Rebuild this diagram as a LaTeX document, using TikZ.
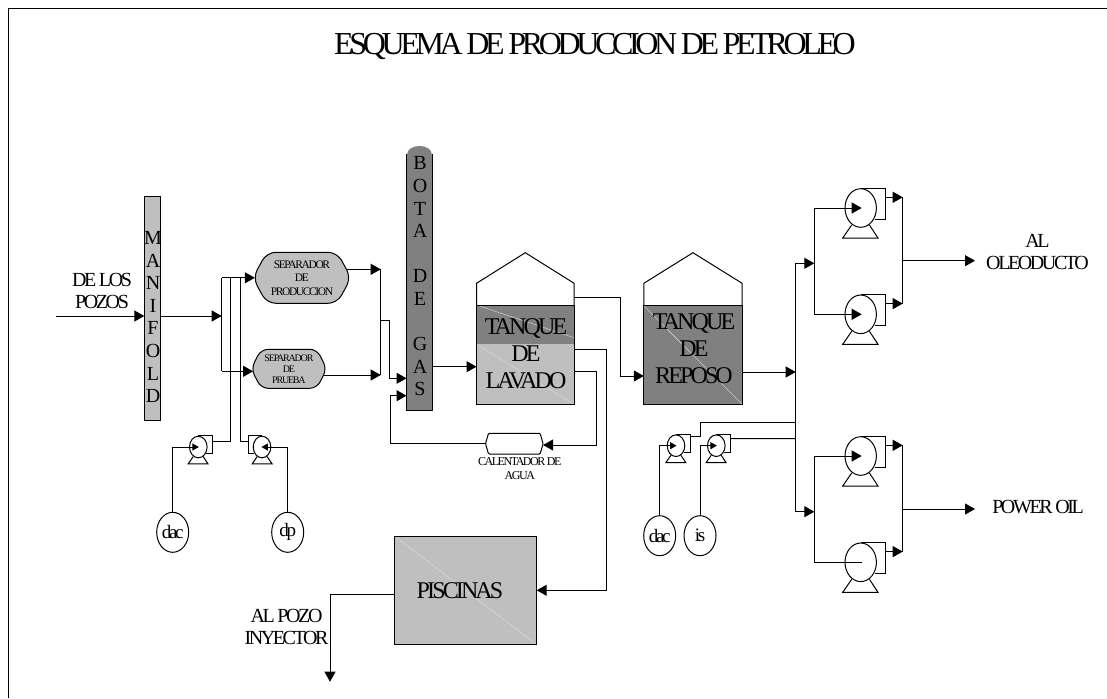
\documentclass[tikz,border=0pt]{standalone}
\usepackage{fontspec}
\setmainfont{Liberation Serif}[LetterSpace=-12]
\newfontfamily\titlefont{Liberation Serif}[LetterSpace=-13.6]
\usepackage{tikz}
\usetikzlibrary{arrows.meta, positioning, shapes.geometric}
\definecolor{graylight}{HTML}{BFBFBF}
\definecolor{graydark}{HTML}{808080}
\newcommand{\chamferdraw}[4]{%
  \draw[fill=#4, rounded corners=#3] (#1.north) -- ([xshift=-#2]#1.north east) -- (#1.east)
    -- ([xshift=-#2]#1.south east) -- ([xshift=#2]#1.south west) -- (#1.west)
    -- ([xshift=#2]#1.north west) -- cycle;
}

\begin{document}
\begin{tikzpicture}[
  x=1pt, y=-1pt,
  line width=1pt,
  box/.style={
    draw,
    rectangle,
    inner sep=0pt,
    outer sep=0pt,
    align=center
  },
  slot/.style={
    rectangle,
    inner sep=0pt,
    outer sep=0pt
  },
  diag/.style={
    path picture={
      \draw[white!75!gray, line width=0.4pt] (path picture bounding box.north west) -- (path picture bounding box.south east);
    }
  },
  source/.style={
    draw,
    ellipse,
    minimum width=32pt,
    minimum height=40pt,
    inner sep=0pt,
    font=\fontsize{19}{21}\selectfont
  },
  txt/.style={inner sep=0pt, align=center, font=\fontsize{20}{22}\selectfont},
  tanktxt/.style={inner sep=0pt, align=center, font=\fontsize{24}{27}\selectfont},
  stack/.style={inner sep=0pt, align=center, font=\fontsize{20}{22.6}\selectfont},
  arrow/.style={-{Triangle[length=10pt,width=11pt]}},
  arrowsm/.style={-{Triangle[length=6.5pt,width=7pt]}},
  pump/.pic={
    \draw (0,0) ellipse [x radius=15.7, y radius=19.3];
    \draw (0,-19.7) -- (25,-19.7) -- (25,11.3) -- (14.3,11.3);
    \draw (-9,17) -- (-18,30) -- (17.3,30) -- (8.7,17);
    \coordinate (-in) at (1,0);
    \coordinate (-out) at (25,-10.7);
  }
]
\useasboundingbox (0,0) rectangle (1107,698);

\draw (8,698) -- (8,9) -- (1107,9);
\node[inner sep=0pt, font=\fontsize{32}{34}\selectfont\titlefont] (title) at (595,47) {ESQUEMA DE PRODUCCION DE PETROLEO};

% equipos
\node[box, fill=graylight, minimum width=15.7pt, minimum height=224pt] (manifold) at (152.15,308.7) {};
\node[stack] (manifoldtxt) at (153,317) {M\\A\\N\\I\\F\\O\\L\\D};
\node[slot, right=92.8pt of manifold, yshift=30.9pt, minimum width=98.3pt, minimum height=51pt] (seppro) {};
\chamferdraw{seppro}{14pt}{9pt}{graylight}
\node[inner sep=0pt, align=center, font=\fontsize{11.5}{13.5}\selectfont] (sepprotxt) at (seppro) {SEPARADOR\\DE\\PRODUCCION};
\node[slot, below=46pt of seppro, xshift=-13pt, minimum width=75.7pt, minimum height=39pt] (sepprb) {};
\chamferdraw{sepprb}{10pt}{7pt}{graylight}
\node[inner sep=0pt, align=center, font=\fontsize{10}{11}\selectfont] (sepprbtxt) at (sepprb) {SEPARADOR\\DE\\PRUEBA};
\node[box, fill=graydark, right=79.7pt of sepprb, yshift=86.8pt, minimum width=26pt, minimum height=256pt] (bota) {};
\fill[graydark] ([shift={(0.5,1)}]bota.north west) .. controls +(0,-12) and +(0,-12) .. ([shift={(-0.5,1)}]bota.north east) -- cycle;
\node[stack] (botatxt) at (420,276.5) {B\\O\\T\\A\\[22.6pt]D\\E\\[22.6pt]G\\A\\S};

\node[box, right=44pt of bota, yshift=-73pt, minimum width=97.6pt, minimum height=98.6pt, fill=graylight,
  path picture={
    \fill[graydark] (path picture bounding box.north west) rectangle ([yshift=-38.6pt]path picture bounding box.north east);
    \draw[white!75!gray, line width=0.4pt] ([xshift=2pt]path picture bounding box.north west) -- ([yshift=-32pt]path picture bounding box.north east);
    \draw[white!75!gray, line width=0.4pt] ([yshift=-38.6pt]path picture bounding box.north west) -- (path picture bounding box.south east);
  }] (lavado) {};
\draw (lavado.north west) -- ++(0,-22.4) -- ++(48.8,-30.6) -- ++(48.8,30.6) -- (lavado.north east);
\node[tanktxt] (lavadotxt) at (526,353.5) {TANQUE\\DE\\LAVADO};
\node[box, diag, right=69.7pt of lavado, minimum width=98.3pt, minimum height=98.6pt, fill=graydark] (reposo) {};
\draw (reposo.north west) -- ++(0,-22.4) -- ++(49.15,-30.6) -- ++(49.15,30.6) -- (reposo.north east);
\node[tanktxt] (reposotxt) at (694,349) {TANQUE\\DE\\REPOSO};
\node[slot, below=29pt of lavado, xshift=-11pt, minimum width=57.6pt, minimum height=20.7pt] (heater) {};
\chamferdraw{heater}{3pt}{1pt}{white}
\node[txt, font=\fontsize{12}{14.3}\selectfont, below=3pt of heater, xshift=5.5pt] (heatertxt) {CALENTADOR DE\\AGUA};
\node[box, diag, fill=graylight, minimum width=142.4pt, minimum height=108.7pt] (piscinas) at (465.5,590.35) {};
\node[tanktxt] (piscinastxt) at (460,590.7) {PISCINAS};

% bombas
\pic[scale=0.56] (pa) at (198.3,447) {pump};
\pic[xscale=-0.56, yscale=0.56] (pb) at (262,447) {pump};
\pic[scale=0.56] (pc) at (676,445.7) {pump};
\pic[scale=0.56] (pd) at (716.3,445.7) {pump};
\pic (pe) at (860.7,208) {pump};
\pic (pf) at (860.7,314.3) {pump};
\pic (pg) at (860.7,456) {pump};
\pic (ph) at (860.7,562.3) {pump};

\node[source] (dac1) at (172.7,532.3) {dac};
\node[source] (dp) at (287.7,532.3) {dp};
\node[source] (dac2) at (659.7,535.7) {dac};
\node[source] (is) at (700,535.7) {is};

% textos
\node[txt] (pozostxt) at (102,290.5) {DE LOS\\POZOS};
\node[txt] (inyectortxt) at (286.5,627) {AL POZO\\INYECTOR};
\node[txt] (oleotxt) at (1037.5,251.5) {AL\\OLEODUCTO};
\node[txt] (powertxt) at (1038,507) {POWER OIL};

% puntos de union
\coordinate (pozos) at (56,316);
\coordinate (juntaman) at (221.7,316);
\coordinate (juntasep) at (380.7,320.3);
\coordinate (juntabota) at (389,378.3);
\coordinate (retorno) at (390.7,395.7);
\coordinate (codotanque) at (620.7,376);
\coordinate (codopis) at (606.7,590.3);
\coordinate (codoheat) at (596.7,445);
\coordinate (colector) at (795.7,372);
\coordinate (ramaA) at (814.3,263.3);
\coordinate (ramaB) at (814.3,511.7);
\coordinate (salidaA) at (902.7,260.7);
\coordinate (salidaB) at (902.7,509);
\coordinate (finA) at (975,260.7);
\coordinate (finB) at (975,509);
\coordinate (inyector) at (330,681.7);

% lineas
\draw[arrow] (pozos) -- (manifold.west |- pozos);
\draw[arrow] (manifold.east |- pozos) -- (juntaman);
\draw (juntaman |- seppro) -- ([yshift=-2.5pt]juntaman |- sepprb);
\draw[arrow] (juntaman |- seppro) -- ([xshift=2pt]seppro.west);
\draw[arrow] ([yshift=-2.5pt]juntaman |- sepprb) -- ([shift={(2,2.5)}]sepprb.west);
\draw[arrow] ([shift={(-4,-8.5)}]seppro.east) -- (juntasep |- 0,269.3);
\draw[arrow] ([shift={(-3,6.2)}]sepprb.east) -- (juntasep |- 0,375);
\draw (juntasep |- 0,269.3) -- (juntasep |- 0,375);
\draw[arrow] (juntasep) -| (juntabota) -- (bota.west |- juntabota);
\draw[arrow] (bota.east |- 0,366.7) -- (lavado.west |- 0,366.7);
\draw[arrow] ([yshift=57.7pt]lavado.east) -| (codotanque) -- (reposo.west |- codotanque);
\draw[arrow] ([yshift=6pt]lavado.east) -| (codopis) -- (piscinas.east |- codopis);
\draw[arrow] ([yshift=-16pt]lavado.east) -| (codoheat) -- (heater.east |- codoheat);
\draw[arrow] (heater.west) -| (retorno) -- (bota.west |- retorno);
\draw[arrow] ([yshift=-4pt]piscinas.west) -| (inyector);

\draw[arrowsm] (dac1.north) |- (pa-in);
\draw[arrowsm] (dp.north) |- (pb-in);
\draw (pa-out) -| ([xshift=8.3pt]juntaman |- seppro);
\draw (pb-out) -| ([xshift=18.3pt]juntaman |- seppro);

\draw[arrow] (reposo.east |- colector) -- (colector);
\draw (colector |- ramaA) -- (colector |- ramaB);
\draw[arrow] (colector |- ramaA) -- (ramaA);
\draw[arrow] (colector |- ramaB) -- (ramaB);
\draw[arrowsm] (dac2.north) |- (pc-in);
\draw[arrowsm] (is.north) |- (pd-in);
\draw ([yshift=3pt]pc-out) -- ++(10,0) |- (colector |- 0,422.3);
\draw ([yshift=1pt]pd-out) -- (colector |- 0,438.7);

\draw (ramaA |- pe-in) -- (ramaA |- pf-in);
\draw[arrow] (ramaA |- pe-in) -- (pe-in);
\draw[arrow] (ramaA |- pf-in) -- (pf-in);
\draw[arrow] (pe-out) -- (salidaA |- pe-out);
\draw[arrow] (pf-out) -- (salidaA |- pf-out);
\draw (salidaA |- pe-out) -- (salidaA |- pf-out);
\draw[arrow] (salidaA) -- (finA);

\draw (ramaB |- pg-in) -- (ramaB |- ph-in);
\draw[arrow] (ramaB |- pg-in) -- (pg-in);
\draw (ramaB |- ph-in) -- (ph-in);
\draw[arrow] (pg-out) -- (salidaB |- pg-out);
\draw[arrow] (ph-out) -- (salidaB |- ph-out);
\draw (salidaB |- pg-out) -- (salidaB |- ph-out);
\draw[arrow] (salidaB) -- (finB);

\end{tikzpicture}
\end{document}
